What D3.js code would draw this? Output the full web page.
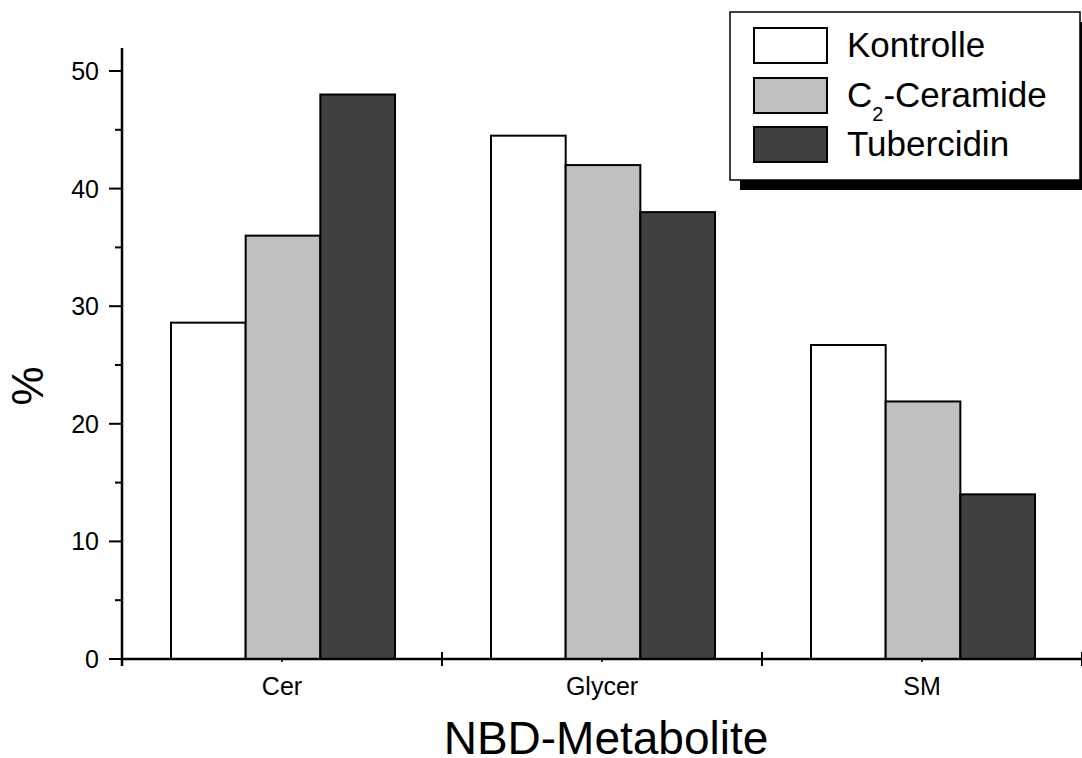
<!DOCTYPE html>
<html>
<head>
<meta charset="utf-8">
<script src="https://cdn.jsdelivr.net/npm/d3@7"></script>
<style>
  html, body { margin: 0; padding: 0; background: #fff; }
  svg { display: block; font-family: Arial, "Liberation Sans", Helvetica, sans-serif; }
</style>
</head>
<body>
<svg id="chart" width="1082" height="758"></svg>
<script>
// NBD-labelled metabolites, share in % per treatment
const categories = ["Cer", "Glycer", "SM"];
const seriesNames = ["Kontrolle", "C2-Ceramide", "Tubercidin"];
const kontrolle = [28.6, 44.5, 26.7];
const c2Ceramide = [36.0, 42.0, 21.9];
const tubercidin = [48.0, 38.0, 14.0];
const yTicks = [0, 10, 20, 30, 40, 50];
const yMinorTicks = [5, 15, 25, 35, 45];

const seriesValues = [kontrolle, c2Ceramide, tubercidin];
const fills = ["#ffffff", "#c0c0c0", "#404040"];

const svg = d3.select("#chart");

const plot = { left: 122, right: 1082, top: 48, bottom: 659 };

const y = d3.scaleLinear().domain([0, 50]).range([plot.bottom, 71]);
const x = d3.scaleBand().domain(categories).range([plot.left, plot.right]).paddingInner(0).paddingOuter(0);
const xs = d3.scaleBand().domain(d3.range(seriesNames.length))
  .range([49, x.bandwidth() - 47]).padding(0);

// bars
const groups = svg.append("g").selectAll("g")
  .data(categories)
  .join("g")
  .attr("transform", d => `translate(${x(d)},0)`);

groups.selectAll("rect")
  .data((d, i) => seriesValues.map((vals, s) => ({ s, v: vals[i] })))
  .join("rect")
  .attr("x", d => xs(d.s))
  .attr("width", xs.bandwidth())
  .attr("y", d => y(d.v))
  .attr("height", d => y(0) - y(d.v))
  .attr("fill", d => fills[d.s])
  .attr("stroke", "#000")
  .attr("stroke-width", 2);

// y axis
const yAxis = svg.append("g").attr("transform", `translate(${plot.left},0)`);
yAxis.append("line")
  .attr("x1", 0).attr("x2", 0)
  .attr("y1", plot.top).attr("y2", plot.bottom + 7)
  .attr("stroke", "#000").attr("stroke-width", 2.5);
yAxis.selectAll(".major").data(yTicks).join("line")
  .attr("x1", -13).attr("x2", 0)
  .attr("y1", d => y(d)).attr("y2", d => y(d))
  .attr("stroke", "#000").attr("stroke-width", 2);
yAxis.selectAll(".minor").data(yMinorTicks).join("line")
  .attr("x1", -7).attr("x2", 0)
  .attr("y1", d => y(d)).attr("y2", d => y(d))
  .attr("stroke", "#000").attr("stroke-width", 2);
yAxis.selectAll("text").data(yTicks).join("text")
  .attr("x", -23).attr("y", d => y(d))
  .attr("dy", "0.36em")
  .attr("text-anchor", "end")
  .attr("font-size", 25)
  .text(d => d);

// x axis
const xAxis = svg.append("g").attr("transform", `translate(0,${plot.bottom})`);
xAxis.append("line")
  .attr("x1", plot.left).attr("x2", plot.right)
  .attr("y1", 0).attr("y2", 0)
  .attr("stroke", "#000").attr("stroke-width", 2.5);
const bounds = categories.map(c => x(c) + x.bandwidth());
xAxis.selectAll(".bound").data(bounds).join("line")
  .attr("x1", d => d).attr("x2", d => d)
  .attr("y1", -7).attr("y2", 7)
  .attr("stroke", "#000").attr("stroke-width", 2);
xAxis.selectAll(".center").data(categories).join("line")
  .attr("x1", d => x(d) + x.bandwidth() / 2).attr("x2", d => x(d) + x.bandwidth() / 2)
  .attr("y1", 0).attr("y2", 3)
  .attr("stroke", "#000").attr("stroke-width", 1.5);
xAxis.selectAll("text").data(categories).join("text")
  .attr("x", d => x(d) + x.bandwidth() / 2)
  .attr("y", 36)
  .attr("text-anchor", "middle")
  .attr("font-size", 25)
  .text(d => d);

// axis titles
svg.append("text")
  .attr("x", 606)
  .attr("y", 754)
  .attr("text-anchor", "middle")
  .attr("font-size", 46)
  .text("NBD-Metabolite");

svg.append("text")
  .attr("transform", `translate(43,386) rotate(-90)`)
  .attr("text-anchor", "middle")
  .attr("font-size", 44)
  .text("%");

// legend with drop shadow
const legend = svg.append("g");
legend.append("rect")
  .attr("x", 740).attr("y", 22).attr("width", 350).attr("height", 168)
  .attr("fill", "#000");
legend.append("rect")
  .attr("x", 730).attr("y", 12).attr("width", 350).attr("height", 168)
  .attr("fill", "#fff").attr("stroke", "#000").attr("stroke-width", 1.5);

const rowY = [28, 78, 127];
const rows = legend.selectAll("g.row").data(seriesNames).join("g")
  .attr("transform", (d, i) => `translate(0,${rowY[i]})`);
rows.append("rect")
  .attr("x", 754).attr("y", 0).attr("width", 73).attr("height", 35)
  .attr("fill", (d, i) => fills[i])
  .attr("stroke", "#000").attr("stroke-width", 2);
rows.append("text")
  .attr("x", 847).attr("y", 29)
  .attr("font-size", 35)
  .each(function(d) {
    const t = d3.select(this);
    if (d.startsWith("C2")) {
      t.append("tspan").text("C");
      t.append("tspan").attr("font-size", 20).attr("dy", 14).text("2");
      t.append("tspan").attr("dy", -14).text(d.slice(2));
    } else {
      t.text(d);
    }
  });
</script>
</body>
</html>
